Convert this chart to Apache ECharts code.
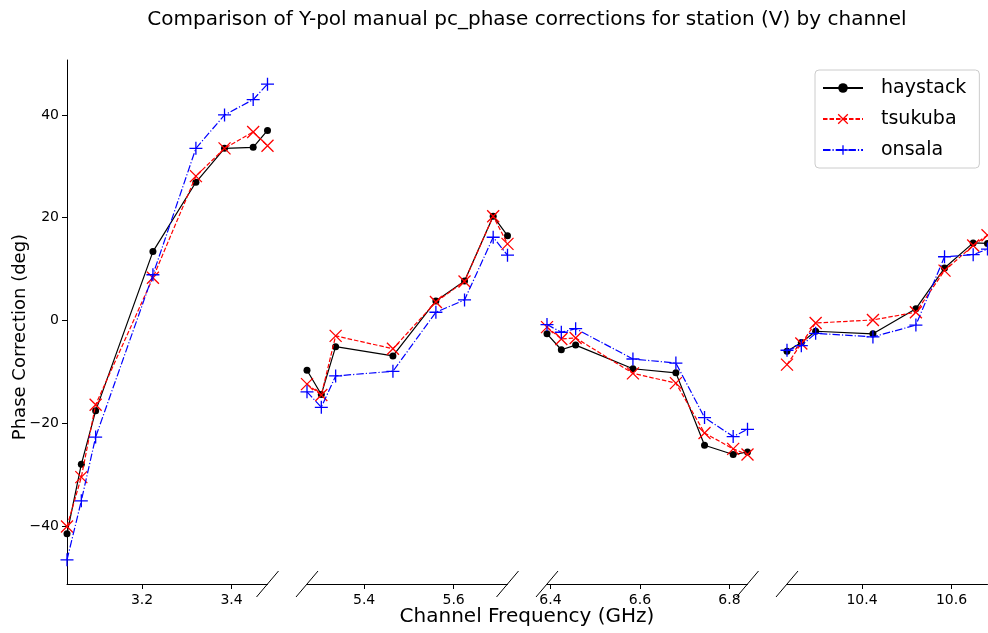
<!DOCTYPE html>
<html><head><meta charset="utf-8">
<script src="https://cdn.jsdelivr.net/npm/echarts@6/dist/echarts.min.js"></script>
<style>html,body{margin:0;padding:0;background:#fff}#chart{width:988px;height:633px}</style>
</head><body><div id="chart"></div>
<script>
// ---- data ----
const stationNames = ['haystack', 'tsukuba', 'onsala'];
const freqA = [3.0324, 3.0644, 3.0964, 3.2244, 3.3204, 3.3844, 3.4484, 3.4804];
const freqB = [5.2724, 5.3044, 5.3364, 5.4644, 5.5604, 5.6244, 5.6884, 5.7204];
const freqC = [6.3924, 6.4244, 6.4564, 6.5844, 6.6804, 6.7444, 6.8084, 6.8404];
const freqD = [10.2324, 10.2644, 10.2964, 10.4244, 10.5204, 10.5844, 10.6484, 10.6804];

const haystackA = [-41.5, -28.0, -17.6, 13.4, 26.9, 33.5, 33.7, 37.0];
const tsukubaA  = [-40.1, -30.5, -16.4, 8.3, 28.1, 33.5, 36.7, 34.0];
const onsalaA   = [-46.6, -35.1, -22.7, 8.9, 33.5, 40.0, 43.0, 46.0];

const haystackB = [-9.7, -14.4, -5.1, -6.9, 3.8, 7.7, 20.3, 16.5];
const tsukubaB  = [-12.4, -14.5, -3.0, -5.5, 3.6, 7.6, 20.3, 14.9];
const onsalaB   = [-13.9, -16.9, -10.8, -9.9, 1.6, 4.0, 16.2, 12.7];

const haystackC = [-2.6, -5.7, -4.8, -9.4, -10.2, -24.3, -26.1, -25.6];
const tsukubaC  = [-1.3, -3.6, -3.4, -10.3, -12.2, -21.9, -25.0, -26.1];
const onsalaC   = [-0.8, -2.3, -1.6, -7.5, -8.3, -18.9, -22.6, -21.2];

const haystackD = [-6.0, -4.3, -2.1, -2.6, 2.3, 10.2, 15.1, 15.0];
const tsukubaD  = [-8.6, -4.5, -0.5, 0.1, 1.6, 9.7, 14.6, 16.6];
const onsalaD   = [-5.8, -4.9, -2.5, -3.2, -0.9, 12.4, 12.8, 13.9];

const xTicksA = [3.2, 3.4];
const xTicksB = [5.4, 5.6];
const xTicksC = [6.4, 6.6, 6.8];
const xTicksD = [10.4, 10.6];
const yTicks = [-40, -20, 0, 20, 40];

const titleText = 'Comparison of Y-pol manual pc_phase corrections for station (V) by channel';
const xLabelText = 'Channel Frequency (GHz)';
const yLabelText = 'Phase Correction (deg)';

// ---- layout / style ----
const panels = [
  {freq: freqA, ticks: xTicksA, vals: [haystackA, tsukubaA, onsalaA]},
  {freq: freqB, ticks: xTicksB, vals: [haystackB, tsukubaB, onsalaB]},
  {freq: freqC, ticks: xTicksC, vals: [haystackC, tsukubaC, onsalaC]},
  {freq: freqD, ticks: xTicksD, vals: [haystackD, tsukubaD, onsalaD]}
];
const Y_MIN = -51.3, Y_MAX = 50.7;
const GRID_LEFT = 67, GRID_STEP = 240, GRID_W = 200.5, GRID_TOP = 60, GRID_H = 524;
const FONT = 'DejaVu Sans';
const minus = v => String(v).replace('-', '\u2212');

const styles = [
  {symbol: 'circle', symbolSize: 7, color: '#000000',
   lineStyle: {color: '#000000', width: 1.2, type: 'solid'},
   itemStyle: {color: '#000000', borderWidth: 0}},
  {symbol: 'path://M0,0L10,10M10,0L0,10', symbolSize: 12, color: '#ff0000',
   lineStyle: {color: '#ff0000', width: 1.2, type: [4.5, 2]},
   itemStyle: {color: '#ff0000', borderColor: '#ff0000', borderWidth: 1.3}},
  {symbol: 'path://M5,0L5,10M0,5L10,5', symbolSize: 13, color: '#0000ff',
   lineStyle: {color: '#0000ff', width: 1.2, type: [7.5, 2, 1.2, 2]},
   itemStyle: {color: '#0000ff', borderColor: '#0000ff', borderWidth: 1.3}}
];

const grid = [], xAxis = [], yAxis = [], series = [];
panels.forEach((p, i) => {
  grid.push({left: GRID_LEFT + i * GRID_STEP, top: GRID_TOP, width: GRID_W, height: GRID_H});
  xAxis.push({
    type: 'value', gridIndex: i,
    min: p.freq[0], max: p.freq[p.freq.length - 1],
    axisLine: {show: true, onZero: false, lineStyle: {color: '#000', width: 1}},
    axisTick: {show: true, length: 5, lineStyle: {color: '#000', width: 1}, customValues: p.ticks},
    axisLabel: {show: true, customValues: p.ticks, formatter: v => v.toFixed(1),
                fontFamily: FONT, fontSize: 14, color: '#000', margin: 9},
    splitLine: {show: false}
  });
  yAxis.push({
    type: 'value', gridIndex: i, min: Y_MIN, max: Y_MAX,
    show: i === 0,
    axisLine: {show: i === 0, lineStyle: {color: '#000', width: 1}},
    axisTick: {show: i === 0, length: 5, lineStyle: {color: '#000', width: 1}, customValues: yTicks},
    axisLabel: {show: i === 0, customValues: yTicks, formatter: v => minus(v),
                fontFamily: FONT, fontSize: 14, color: '#000', margin: 8},
    splitLine: {show: false}
  });
  stationNames.forEach((name, k) => {
    const st = styles[k];
    series.push({
      type: 'line', name: name, xAxisIndex: i, yAxisIndex: i,
      data: p.freq.map((f, j) => [f, p.vals[k][j]]),
      symbol: st.symbol, symbolSize: st.symbolSize, showAllSymbol: true,
      color: st.color, lineStyle: st.lineStyle, itemStyle: st.itemStyle,
      clip: false, animation: false, emphasis: {disabled: true}, z: 2 + k
    });
  });
});

const chart = echarts.init(document.getElementById('chart'), null, {renderer: 'canvas'});
chart.setOption({
  backgroundColor: '#ffffff',
  animation: false,
  grid, xAxis, yAxis, series,
  legend: {
    data: stationNames, orient: 'vertical', left: 815, top: 70,
    itemWidth: 40, itemHeight: 12, itemGap: 9,
    padding: [7, 13, 7, 7],
    borderColor: '#cccccc', borderWidth: 1, borderRadius: 4,
    backgroundColor: 'rgba(255,255,255,0.8)',
    itemStyle: {borderWidth: 1.3},
    textStyle: {fontFamily: FONT, fontSize: 19, color: '#000', lineHeight: 22, padding: [0, 0, 0, 13]}
  }
});

// titles and break marks at the inner ends of each panel's x axis
const graphics = [
  {id: 'title', type: 'text', silent: true, style: {text: titleText, x: 527, y: 20, font: '20px "DejaVu Sans"', fill: '#000', align: 'center', verticalAlign: 'middle'}},
  {id: 'xlabel', type: 'text', silent: true, style: {text: xLabelText, x: 527, y: 617, font: '20px "DejaVu Sans"', fill: '#000', align: 'center', verticalAlign: 'middle'}},
  {id: 'ylabel', type: 'text', silent: true, x: 20, y: 337, rotation: Math.PI / 2, style: {text: yLabelText, x: 0, y: 0, font: '18px "DejaVu Sans"', fill: '#000', align: 'center', verticalAlign: 'middle'}}
];
const DX = 11, DY = 13;
panels.forEach((p, i) => {
  const xmin = p.freq[0], xmax = p.freq[p.freq.length - 1];
  const ends = [];
  if (i > 0) ends.push(xmin);
  if (i < panels.length - 1) ends.push(xmax);
  ends.forEach((xv, k) => {
    const pt = chart.convertToPixel({xAxisIndex: i, yAxisIndex: i}, [xv, Y_MIN]);
    graphics.push({id: 'brk' + i + '_' + k, type: 'line', silent: true,
      shape: {x1: pt[0] - DX, y1: pt[1] + DY, x2: pt[0] + DX, y2: pt[1] - DY},
      style: {stroke: '#000', lineWidth: 1}});
  });
});
chart.setOption({graphic: graphics});
</script></body></html>
